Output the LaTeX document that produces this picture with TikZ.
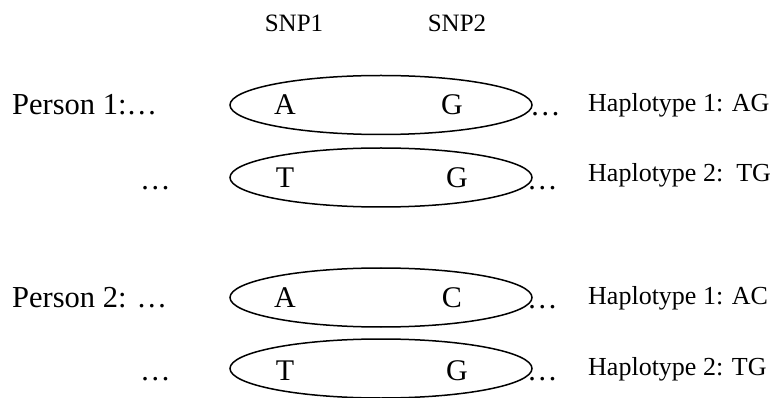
\documentclass[tikz,border=0pt]{standalone}
\usepackage{fontspec}
\setmainfont{Liberation Serif}
\usetikzlibrary{shapes.geometric}

\tikzset{
  hap/.style={draw, line width=1.5pt, ellipse, minimum width=302pt, minimum height=59pt, inner sep=0pt},
  allele/.style={inner sep=0pt, font=\fontsize{30}{36}\selectfont},
  bigtext/.style={inner sep=0pt, anchor=base west, font=\fontsize{30.5}{36}\selectfont},
  label/.style={inner sep=0pt, anchor=base west, font=\fontsize{26}{31}\selectfont},
  snp/.style={inner sep=0pt, anchor=base, font=\fontsize{25}{30}\selectfont}
}

\begin{document}
\begin{tikzpicture}[x=1pt, y=-1pt]
  \useasboundingbox (0,0) rectangle (774,398);

  % column headings
  \node[snp] (snp1) at (294,32) {SNP1};
  \node[snp] (snp2) at (457,32) {SNP2};

  % person labels and leading ellipses
  \node[bigtext] (p1) at (12,115) {Person 1:…};
  \node[bigtext] (d2) at (140,190) {…};
  \node[bigtext] (p2) at (12,307) {Person 2: …};
  \node[bigtext] (d4) at (140,380) {…};

  % haplotype ellipses
  \node[hap] (e1) at (381,105) {};
  \node[hap] (e2) at (381,177.5) {};
  \node[hap] (e3) at (381,297.5) {};
  \node[hap] (e4) at (381,368.5) {};

  % alleles
  \node[allele] (a1) at (285,105) {A};
  \node[allele] (b1) at (452,105) {G};
  \node[allele] (a2) at (285,178) {T};
  \node[allele] (b2) at (457,178) {G};
  \node[allele] (a3) at (285,298) {A};
  \node[allele] (b3) at (452,298) {C};
  \node[allele] (a4) at (285,371) {T};
  \node[allele] (b4) at (457,371) {G};

  % trailing ellipses
  \node[bigtext] (t1) at (530,116) {…};
  \node[bigtext] (t2) at (527,190) {…};
  \node[bigtext] (t3) at (527,308) {…};
  \node[bigtext] (t4) at (527,380) {…};

  % haplotype descriptions
  \node[label] (h1) at (588,112) {Haplotype 1: AG};
  \node[label] (h2) at (588,182) {Haplotype 2:\ \ TG};
  \node[label] (h3) at (588,304) {Haplotype 1: AC};
  \node[label] (h4) at (588,375) {Haplotype 2: TG};
\end{tikzpicture}
\end{document}
